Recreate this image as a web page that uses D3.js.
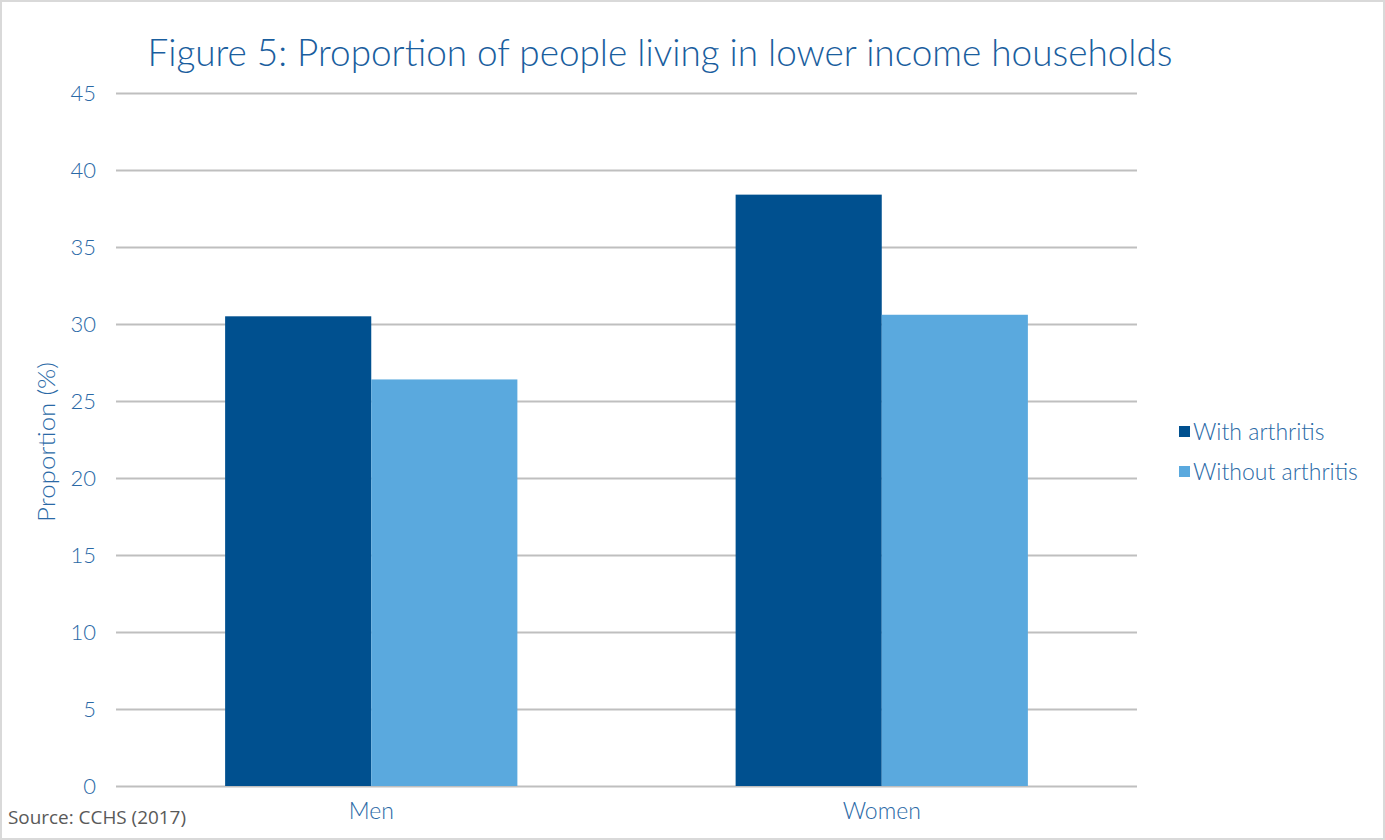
<!DOCTYPE html>
<html><head><meta charset="utf-8">
<script src="https://cdn.jsdelivr.net/npm/d3@7"></script>
<style>body{margin:0;background:#fff}svg{display:block}</style>
</head><body>
<svg id="c" width="1385" height="840"></svg>
<script>
const categories = ["Men", "Women"];
const seriesNames = ["With arthritis", "Without arthritis"];
const withArthritis = [30.5, 38.4];
const withoutArthritis = [26.4, 30.6];
const yTicks = [0, 5, 10, 15, 20, 25, 30, 35, 40, 45];
const colors = ["#00508f", "#5aa9de"];
const title = "Figure 5: Proportion of people living in lower income households";
const source = "Source: CCHS (2017)";

const svg = d3.select("#c");
const W = 1385, H = 840;
const m = {l: 116, r: 1137, t: 93, b: 786};
const txtColor = "#2a69a6";
const font = "Lato, 'Open Sans', sans-serif";

svg.append("rect").attr("x", 1).attr("y", 1).attr("width", W - 2).attr("height", H - 2)
  .attr("fill", "#fff").attr("stroke", "#d9d9d9").attr("stroke-width", 2);

const x0 = d3.scaleBand().domain(categories).range([m.l, m.r]).paddingInner(0.4275).paddingOuter(0.21375);
const x1 = d3.scaleBand().domain(seriesNames).range([0, x0.bandwidth()]);
const y = d3.scaleLinear().domain([0, 45]).range([m.b, m.t]);

// gridlines
const yAxis = d3.axisLeft(y).tickValues(yTicks).tickSize(-(m.r - m.l)).tickPadding(20);
const gy = svg.append("g").attr("transform", `translate(${m.l},0)`).call(yAxis);
gy.select(".domain").remove();
gy.selectAll(".tick line").attr("stroke", "#bfbfbf").attr("stroke-width", 2);
gy.selectAll(".tick text").attr("fill", txtColor).attr("font-family", font).attr("font-size", 22).attr("font-weight", 300);

// bars
const data = categories.map((c, i) => ({c, vals: [withArthritis[i], withoutArthritis[i]]}));
const g = svg.append("g");
g.selectAll("g.cat").data(data).join("g").attr("class", "cat")
  .attr("transform", d => `translate(${x0(d.c)},0)`)
  .selectAll("rect").data(d => d.vals.map((v, j) => ({s: seriesNames[j], v, j})))
  .join("rect")
  .attr("x", d => x1(d.s)).attr("width", x1.bandwidth())
  .attr("y", d => y(d.v)).attr("height", d => y(0) - y(d.v))
  .attr("fill", d => colors[d.j]);

// x axis
const xAxis = d3.axisBottom(x0).tickSize(0).tickPadding(17);
const gx = svg.append("g").attr("transform", `translate(0,${m.b})`).call(xAxis);
gx.select(".domain").remove();
gx.selectAll(".tick text").attr("fill", txtColor).attr("font-family", font).attr("font-size", 23).attr("font-weight", 300);

// title
svg.append("text").attr("x", 660).attr("y", 66).attr("text-anchor", "middle")
  .attr("fill", "#1a5e9e").attr("font-family", font).attr("font-weight", 300).attr("font-size", 37)
  .attr("textLength", 1025).attr("lengthAdjust", "spacingAndGlyphs").text(title);

// y axis title
svg.append("text").attr("transform", "translate(55,442) rotate(-90)").attr("text-anchor", "middle")
  .attr("fill", txtColor).attr("font-family", font).attr("font-size", 24).attr("font-weight", 300)
  .attr("textLength", 160).attr("lengthAdjust", "spacingAndGlyphs").text("Proportion (%)");

// legend
const lg = svg.append("g");
seriesNames.forEach((s, i) => {
  const yy = 432 + i * 40;
  lg.append("rect").attr("x", 1179).attr("y", yy - 6).attr("width", 11).attr("height", 11).attr("fill", colors[i]);
  lg.append("text").attr("x", 1193).attr("y", yy + 8).attr("fill", txtColor)
    .attr("font-family", font).attr("font-size", 23).attr("font-weight", 300).text(s);
});

// source
svg.append("text").attr("x", 8).attr("y", 824).attr("fill", "#595959")
  .attr("font-family", "'Open Sans', sans-serif").attr("font-size", 18)
  .attr("textLength", 178).attr("lengthAdjust", "spacingAndGlyphs").text(source);
</script>
</body></html>
